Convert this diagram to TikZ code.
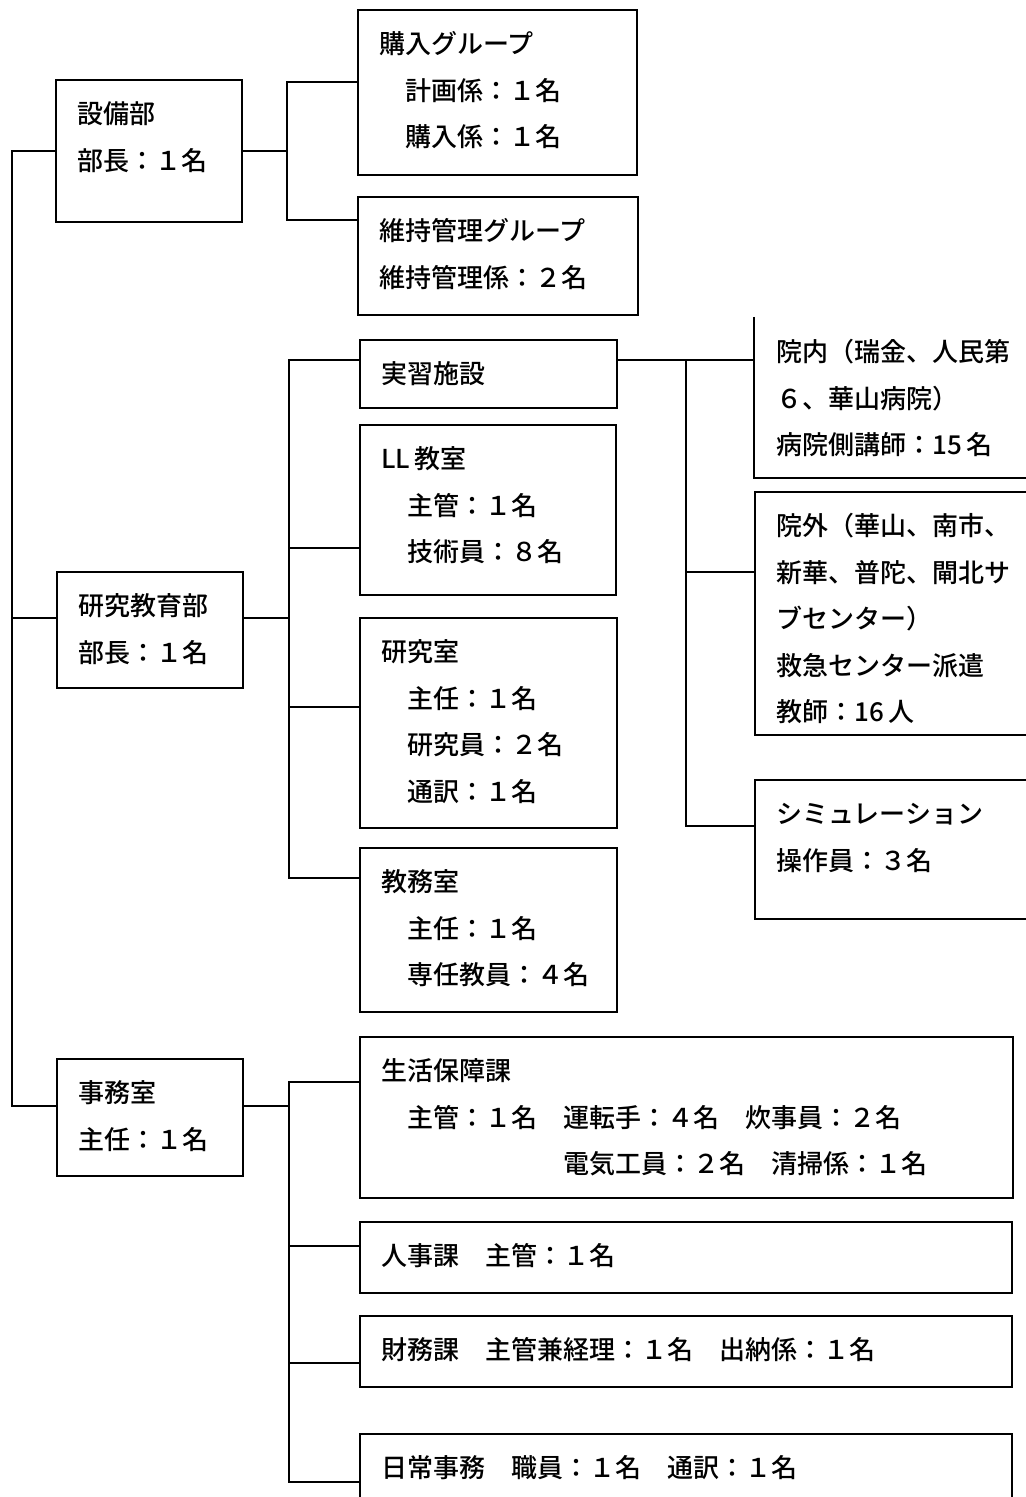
\documentclass[tikz,border=0pt]{standalone}
\usepackage{fontspec}
\setmainfont{Noto Sans CJK JP}[UprightFont=* Medium]
\usetikzlibrary{fit}

\begin{document}
\begin{tikzpicture}[
  x=0.5pt,y=-0.5pt,
  frame/.style={line width=1.1pt},
  box/.style={draw,frame,inner sep=0pt},
  txt/.style={anchor=base west,xshift=11pt,yshift=-22.5pt,inner sep=0pt,
    text width=300pt,align=left,font=\fontsize{13pt}{23.25pt}\selectfont},
  link/.style={line width=0.9pt}
]
\useasboundingbox (0,0) rectangle (1026,1497);
\clip (0,0) rectangle (1026,1497);

\node[box,fit={(56,80) (242,222)}] (setsubi) {};
\node[txt] (setsubi-txt) at (setsubi.north west) {設備部\\部長：１名};
\node[box,fit={(57,572) (243,688)}] (kenkyu) {};
\node[txt] (kenkyu-txt) at (kenkyu.north west) {研究教育部\\部長：１名};
\node[box,fit={(57,1059) (243,1176)}] (jimu) {};
\node[txt] (jimu-txt) at (jimu.north west) {事務室\\主任：１名};

\node[box,fit={(358,10) (637,175)}] (kounyu) {};
\node[txt] (kounyu-txt) at (kounyu.north west) {購入グループ\\　計画係：１名\\　購入係：１名};
\node[box,fit={(358,197) (638,315)}] (iji) {};
\node[txt] (iji-txt) at (iji.north west) {維持管理グループ\\維持管理係：２名};

\node[box,fit={(360,340) (617,408)}] (jisshu) {};
\node[txt] (jisshu-txt) at (jisshu.north west) {実習施設};
\node[box,fit={(360,425) (616,595)}] (ll) {};
\node[txt] (ll-txt) at (ll.north west) {LL\,教室\\　主管：１名\\　技術員：８名};
\node[box,fit={(360,618) (617,828)}] (kenkyushitsu) {};
\node[txt] (kenkyushitsu-txt) at (kenkyushitsu.north west) {研究室\\　主任：１名\\　研究員：２名\\　通訳：１名};
\node[box,fit={(360,848) (617,1012)}] (kyomu) {};
\node[txt] (kyomu-txt) at (kyomu.north west) {教務室\\　主任：１名\\　専任教員：４名};

\node[box,draw=none,fit={(755,318) (1040,477)}] (innai) {};
\draw[frame] (innai.north west) -- (innai.south west) -- (innai.south east);
\node[txt] (innai-txt) at (innai.north west) {院内（瑞金、人民第\\６、華山病院）\\病院側講師：15\,名};
\node[box,fit={(755,492) (1040,735)}] (ingai) {};
\node[txt] (ingai-txt) at (ingai.north west) {院外（華山、南市、\\新華、普陀、閘北サ\\ブセンター）\\救急センター派遣\\教師：16\,人};
\node[box,fit={(755,780) (1040,919)}] (sim) {};
\node[txt] (sim-txt) at (sim.north west) {シミュレーション\\操作員：３名};

\node[box,fit={(360,1037) (1013,1198)}] (seikatsu) {};
\node[txt] (seikatsu-txt) at (seikatsu.north west) {生活保障課\\　主管：１名　運転手：４名　炊事員：２名\\\hspace*{7em}電気工員：２名　清掃係：１名};
\node[box,fit={(360,1222) (1012,1293)}] (jinji) {};
\node[txt] (jinji-txt) at (jinji.north west) {人事課　主管：１名};
\node[box,fit={(360,1316) (1012,1387)}] (zaimu) {};
\node[txt] (zaimu-txt) at (zaimu.north west) {財務課　主管兼経理：１名　出納係：１名};
\node[box,fit={(360,1434) (1012,1520)}] (nichijo) {};
\node[txt] (nichijo-txt) at (nichijo.north west) {日常事務　職員：１名　通訳：１名};

\coordinate (t1) at (12,618);
\coordinate (t2) at (12,1106);
\draw[link] (setsubi.west) -| (t2) -- (t2 -| jimu.west);
\draw[link] (t1) -- (t1 -| kenkyu.west);

\coordinate (a0) at (287,82);
\coordinate (a1) at (287,220);
\draw[link] (setsubi.east) -- (setsubi.east -| a0);
\draw[link] (a0 -| kounyu.west) -- (a0) -- (a1) -- (a1 -| iji.west);

\coordinate (bk) at (289,618);
\coordinate (b0) at (289,360);
\coordinate (b1) at (289,548);
\coordinate (b2) at (289,707);
\coordinate (b3) at (289,878);
\draw[link] (bk -| kenkyu.east) -- (bk);
\draw[link] (b0 -| jisshu.west) -- (b0) -- (b3) -- (b3 -| kyomu.west);
\foreach \j/\n in {b1/ll,b2/kenkyushitsu}
  \draw[link] (\j) -- (\j -| \n.west);

\coordinate (c0) at (686,360);
\coordinate (c1) at (686,572);
\coordinate (c2) at (686,826);
\draw[link] (c0 -| jisshu.east) -- (c0 -| innai.west);
\draw[link] (c0) -- (c2) -- (c2 -| sim.west);
\draw[link] (c1) -- (c1 -| ingai.west);

\coordinate (dk) at (289,1106);
\coordinate (d0) at (289,1082);
\coordinate (d1) at (289,1246);
\coordinate (d2) at (289,1363);
\coordinate (d3) at (289,1482);
\draw[link] (dk -| jimu.east) -- (dk);
\draw[link] (d0 -| seikatsu.west) -- (d0) -- (d3) -- (d3 -| nichijo.west);
\foreach \j/\n in {d1/jinji,d2/zaimu}
  \draw[link] (\j) -- (\j -| \n.west);

\end{tikzpicture}
\end{document}
